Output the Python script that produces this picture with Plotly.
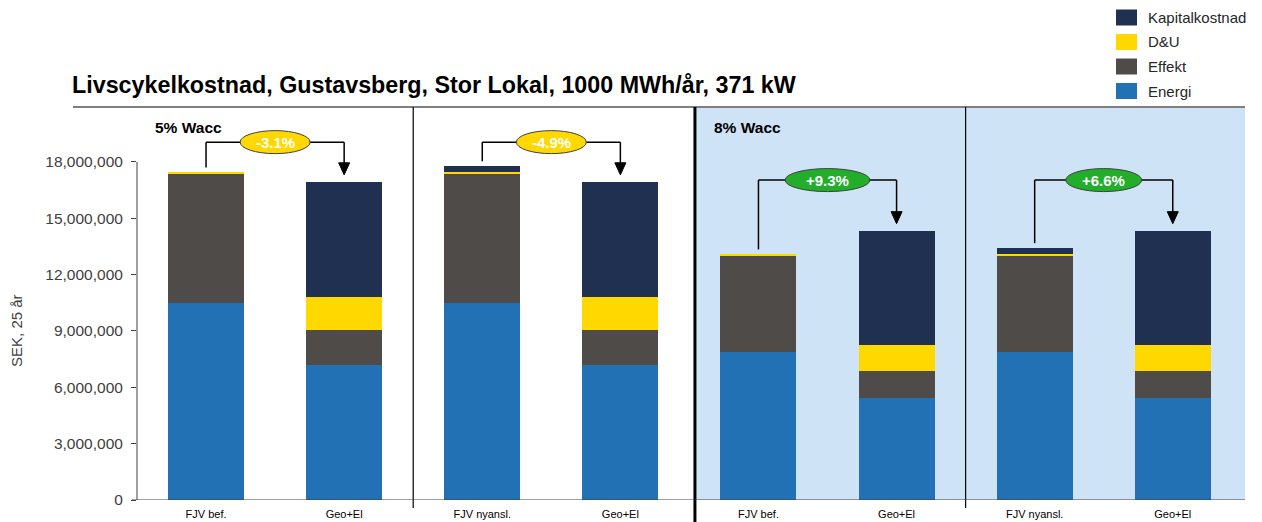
import plotly.graph_objects as go

# ---------------- data ----------------
categories = ["FJV bef.", "Geo+El", "FJV nyansl.", "Geo+El",
              "FJV bef.", "Geo+El", "FJV nyansl.", "Geo+El"]
energi = [10_500_000, 7_180_000, 10_500_000, 7_180_000, 7_890_000, 5_450_000, 7_890_000, 5_450_000]
effekt = [6_880_000, 1_870_000, 6_880_000, 1_870_000, 5_130_000, 1_420_000, 5_130_000, 1_420_000]
du = [70_000, 1_740_000, 70_000, 1_740_000, 70_000, 1_360_000, 70_000, 1_360_000]
kapital = [0, 6_120_000, 330_000, 6_120_000, 0, 6_080_000, 330_000, 6_080_000]
series_names = ["Energi", "Effekt", "D&U", "Kapitalkostnad"]
series_colors = ["#2271B5", "#4F4B48", "#FFD800", "#1F3050"]
panel_labels = ["5% Wacc", "8% Wacc"]
y_ticks = [0, 3_000_000, 6_000_000, 9_000_000, 12_000_000, 15_000_000, 18_000_000]
title = "Livscykelkostnad, Gustavsberg, Stor Lokal, 1000 MWh/år, 371 kW"
y_title = "SEK, 25 år"

# ---------------- layout geometry ----------------
W, H = 1262, 522
ML, MR, MT, MB = 137, 17, 107, 22
PW, PH = W - ML - MR, H - MT - MB
XMIN, XMAX = -0.5, 7.523
YMAX = 20_920_000
FONT = "Liberation Sans, Arial, sans-serif"


def px_x(p):
    return (p - ML) / PW


def px_y(p):
    return (H - MB - p) / PH


xs = list(range(len(categories)))
series = [energi, effekt, du, kapital]
totals = [sum(s[i] for s in series) for i in xs]

fig = go.Figure()
for name, vals, col in zip(series_names, series, series_colors):
    fig.add_trace(go.Bar(
        x=xs, y=vals, name=name, width=0.55,
        marker=dict(color=col, line=dict(width=0)),
        showlegend=False,
    ))

shapes = []
annotations = []

# light blue background for 8% panels
shapes.append(dict(type="rect", xref="x", yref="paper", x0=3.54, x1=XMAX, y0=0, y1=1,
                   fillcolor="#CEE3F6", line=dict(width=0), layer="below"))
# top rule under title
shapes.append(dict(type="line", xref="paper", yref="paper", x0=px_x(73), x1=1, y0=1, y1=1,
                   line=dict(color="#7F7F7F", width=2)))
# separators
for sx in (1.5, 5.5):
    shapes.append(dict(type="line", xref="x", yref="paper", x0=sx, x1=sx, y0=1, y1=px_y(508),
                       line=dict(color="black", width=1.2)))
shapes.append(dict(type="line", xref="x", yref="paper", x0=3.54, x1=3.54, y0=1, y1=px_y(522),
                   line=dict(color="black", width=3)))
# axes lines
shapes.append(dict(type="line", xref="paper", yref="y", x0=0, x1=0, y0=0, y1=y_ticks[-1],
                   line=dict(color="#404040", width=1)))
shapes.append(dict(type="line", xref="paper", yref="y", x0=px_x(132), x1=1, y0=0, y1=0,
                   line=dict(color="#404040", width=1)))

# brackets with percentage change
levels = [19_050_000, 19_050_000, 17_030_000, 17_030_000]
ell_w = [70, 70, 85, 76]
for k in range(4):
    a, b = 2 * k, 2 * k + 1
    lvl = levels[k]
    pct = (totals[b] / totals[a] - 1) * 100
    start = totals[a] + 250_000
    tip = totals[b] + 400_000
    ln = dict(color="black", width=1.5)
    shapes.append(dict(type="line", xref="x", yref="y", x0=a, x1=a, y0=start, y1=lvl, line=ln))
    shapes.append(dict(type="line", xref="x", yref="y", x0=a, x1=b, y0=lvl, y1=lvl, line=ln))
    shapes.append(dict(type="line", xref="x", yref="y", x0=b, x1=b, y0=lvl, y1=tip + 500_000, line=ln))
    shapes.append(dict(type="path", xref="x", yref="y", xsizemode="pixel", ysizemode="pixel",
                       xanchor=b, yanchor=tip, path="M -5.5 12 L 5.5 12 L 0 0 Z",
                       fillcolor="black", line=dict(color="black", width=1)))
    fill = "#FFD800" if pct < 0 else "#22AE2A"
    shapes.append(dict(type="circle", xref="x", yref="y", xsizemode="pixel", ysizemode="pixel",
                       xanchor=(a + b) / 2, yanchor=lvl, x0=-ell_w[k] / 2, x1=ell_w[k] / 2,
                       y0=-11.5, y1=11.5, fillcolor=fill, line=dict(color="#404040", width=1)))
    annotations.append(dict(x=(a + b) / 2, y=lvl, xref="x", yref="y", text=f"<b>{pct:+.1f}%</b>",
                            showarrow=False, font=dict(family=FONT, size=15, color="white")))

# panel labels
for lbl, xp in zip(panel_labels, (153, 712)):
    annotations.append(dict(x=px_x(xp), y=px_y(127), xref="paper", yref="paper", text=f"<b>{lbl}</b>",
                            showarrow=False, xanchor="left", yanchor="middle",
                            font=dict(family=FONT, size=15.5, color="black")))

# y-axis title (centred on the tick range)
annotations.append(dict(x=px_x(17), y=y_ticks[-1] / 2, xref="paper", yref="y", text=y_title,
                        textangle=-90, showarrow=False, xanchor="center", yanchor="middle",
                        font=dict(family=FONT, size=15, color="#404040")))

# legend (manual, top right)
leg_names = series_names[::-1]
leg_cols = series_colors[::-1]
for j, (nm, col) in enumerate(zip(leg_names, leg_cols)):
    cy = 17.5 + 24.5 * j
    shapes.append(dict(type="rect", xref="paper", yref="paper", x0=px_x(1116), x1=px_x(1137),
                       y0=px_y(cy + 8), y1=px_y(cy - 8), fillcolor=col, line=dict(width=0)))
    annotations.append(dict(x=px_x(1146), y=px_y(cy), xref="paper", yref="paper", text=nm,
                            showarrow=False, xanchor="left", yanchor="middle",
                            font=dict(family=FONT, size=15, color="#262626")))

fig.update_layout(
    width=W, height=H,
    margin=dict(l=ML, r=MR, t=MT, b=MB, pad=0, autoexpand=False),
    barmode="stack",
    plot_bgcolor="white", paper_bgcolor="white",
    font=dict(family=FONT, color="#404040"),
    title=dict(text=f"<b>{title}</b>", xref="container", yref="container",
               x=72 / W, xanchor="left", y=1 - 85 / H, yanchor="middle",
               font=dict(family=FONT, size=23.3, color="black")),
    xaxis=dict(range=[XMIN, XMAX], tickvals=xs, ticktext=categories, showgrid=False,
               zeroline=False, showline=False, ticks="", ticklabelstandoff=6, automargin=False,
               tickfont=dict(family=FONT, size=11, color="black")),
    yaxis=dict(range=[0, YMAX], tickvals=y_ticks, tickformat=",d", showgrid=False,
               zeroline=False, showline=False, ticks="outside", ticklen=5, tickcolor="#404040",
               ticklabelstandoff=5, automargin=False,
               tickfont=dict(family=FONT, size=15.5, color="#404040")),
    shapes=shapes,
    annotations=annotations,
    showlegend=False,
)

fig.write_html("out.html", config={"displayModeBar": False},
               post_script="document.body.style.margin='0';")
